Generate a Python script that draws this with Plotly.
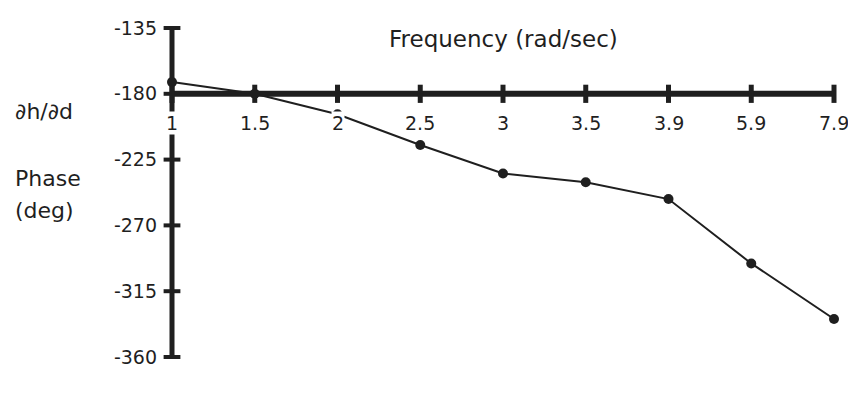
import plotly.graph_objects as go

# ---- data ----
freq_labels = ["1", "1.5", "2", "2.5", "3", "3.5", "3.9", "5.9", "7.9"]
phase_deg = [-172, -180, -194, -215, -234.5, -240.5, -252, -296, -334]
y_ticks = [-135, -180, -225, -270, -315, -360]
x_axis_level = -180

ink = "#1f1f1f"
font = "DejaVu Sans"
idx = list(range(len(freq_labels)))
n = len(freq_labels) - 1

fig = go.Figure()

# y axis line (vertical, at first category)
fig.add_trace(go.Scatter(x=[0, 0], y=[min(y_ticks), max(y_ticks)], mode="lines",
                         line=dict(color=ink, width=5), hoverinfo="skip", showlegend=False))
# y tick marks
fig.add_trace(go.Scatter(x=[0] * len(y_ticks), y=y_ticks, mode="markers",
                         marker=dict(symbol="line-ew", size=12, line=dict(color=ink, width=4)),
                         hoverinfo="skip", showlegend=False, cliponaxis=False))
# x axis line at -180
fig.add_trace(go.Scatter(x=[0, n], y=[x_axis_level, x_axis_level], mode="lines",
                         line=dict(color=ink, width=6), hoverinfo="skip", showlegend=False))
# x tick marks
fig.add_trace(go.Scatter(x=idx, y=[x_axis_level] * len(idx), mode="markers",
                         marker=dict(symbol="line-ns", size=13, line=dict(color=ink, width=5)),
                         hoverinfo="skip", showlegend=False, cliponaxis=False))
# data
fig.add_trace(go.Scatter(x=idx, y=phase_deg, mode="lines+markers",
                         line=dict(color=ink, width=2),
                         marker=dict(symbol="circle", size=10, color=ink),
                         showlegend=False, cliponaxis=False))

annotations = []
for i, lab in enumerate(freq_labels):
    annotations.append(dict(x=i, y=x_axis_level, xref="x", yref="y", text=lab, showarrow=False,
                            yshift=-29, bgcolor="white", borderpad=0,
                            font=dict(family=font, size=19, color=ink)))
lab_x = -0.2234
annotations += [
    dict(x=4, y=-142.5, xref="x", yref="y", text="Frequency (rad/sec)", showarrow=False,
         font=dict(family=font, size=23, color=ink)),
    dict(x=lab_x, y=-192.4, xref="paper", yref="y", xanchor="left",
         text="∂h/∂d", showarrow=False, font=dict(family=font, size=22, color=ink)),
    dict(x=lab_x, y=-237.6, xref="paper", yref="y", xanchor="left",
         text="Phase", showarrow=False, font=dict(family=font, size=22, color=ink)),
    dict(x=lab_x, y=-259.5, xref="paper", yref="y", xanchor="left",
         text="(deg)", showarrow=False, font=dict(family=font, size=22, color=ink)),
]

# page body has an 8px margin; figure sized so it fits the 856x398 window
fig.update_layout(
    width=848, height=390,
    margin=dict(l=156, r=14, t=16, b=37, autoexpand=False),
    paper_bgcolor="white", plot_bgcolor="white",
    annotations=annotations,
    xaxis=dict(range=[-0.0967, n + 0.0967], visible=False, fixedrange=True),
    yaxis=dict(range=[-362.74, -132.26], tickvals=y_ticks, ticktext=[str(v) for v in y_ticks],
               showgrid=False, zeroline=False, showline=False, ticks="",
               ticklabelstandoff=6, automargin=False,
               tickfont=dict(family=font, size=19, color=ink), fixedrange=True),
)

fig.write_html("out.html")
